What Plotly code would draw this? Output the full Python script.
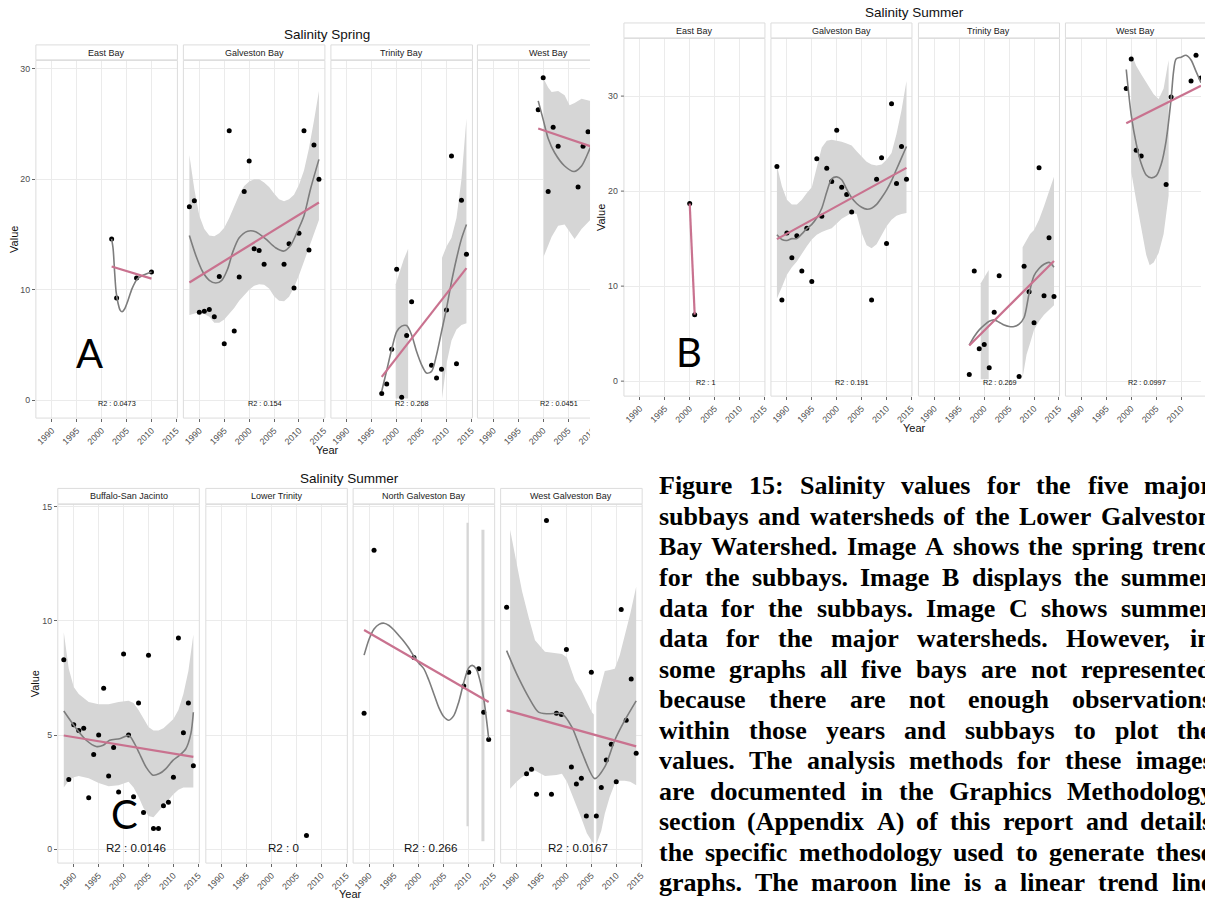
import plotly.graph_objects as go

W, H = 1205, 900
SANS = "Liberation Sans"
SERIF = "Liberation Serif"

YEAR_TICKS = [1990, 1995, 2000, 2005, 2010, 2015]
YEAR_LABELS = ["1990", "1995", "2000", "2005", "2010", "2015"]

# ======================= Salinity Spring (subbays) =======================
spring_east_year = [2002, 2003, 2007, 2010]
spring_east_value = [14.6, 9.25, 11.05, 11.6]
spring_east_smooth_year = [2002.0, 2002.3, 2002.6, 2002.9, 2003.3, 2003.7, 2004.1, 2004.6, 2005.3, 2006.1, 2007.1, 2008.3, 2010.0]
spring_east_smooth = [14.6, 13.7, 11.6, 9.8, 8.75, 8.15, 8.0, 8.25, 9.05, 10.1, 10.95, 11.3, 11.6]
spring_east_trend_year = [2002, 2010]
spring_east_trend = [12.1, 11.0]

spring_galv_year = [1988, 1989, 1990, 1991, 1992, 1993, 1994, 1995, 1996, 1997, 1998, 1999,
                    2000, 2001, 2002, 2003, 2007, 2008, 2009, 2010, 2011, 2012, 2013, 2014]
spring_galv_value = [17.5, 18.05, 7.95, 8.05, 8.2, 7.55, 11.2, 5.1, 24.4, 6.25, 11.15, 18.9,
                     21.65, 13.7, 13.55, 12.3, 12.3, 14.15, 10.15, 15.1, 24.4, 13.6, 23.1, 20.0]
spring_galv_smooth_year = [1988, 1989.3, 1990.7, 1992, 1993.3, 1994.5, 1995.7, 1996.7, 1998, 1999.7,
                           2001.3, 2003.3, 2005.3, 2007, 2008.3, 2009.7, 2011, 2012.3, 2014]
spring_galv_smooth = [14.9, 13.1, 11.6, 10.85, 10.6, 10.85, 11.9, 13.4, 14.7, 15.3,
                      15.25, 14.6, 13.8, 13.5, 14.0, 15.3, 16.7, 19.1, 21.8]
spring_galv_band_year = [1988, 1989, 1990, 1991, 1992, 1993, 1994, 1995, 1996, 1997, 1998, 1999, 2000, 2001,
                         2002, 2003, 2004, 2005, 2006, 2007, 2008, 2009, 2010, 2011, 2012, 2013, 2014]
spring_galv_band_hi = [22.2, 19.1, 16.7, 15.5, 14.9, 14.85, 15.1, 15.6, 16.5, 17.6, 18.6, 19.4, 19.8, 20.0,
                       20.0, 19.7, 19.3, 18.7, 18.2, 18.0, 18.2, 18.6, 19.5, 20.8, 22.8, 25.3, 28.0]
spring_galv_band_lo = [7.7, 7.85, 7.95, 7.8, 7.55, 7.0, 7.0, 7.3, 7.8, 8.35, 9.0, 9.5, 10.0, 10.35,
                       10.5, 10.45, 10.1, 9.4, 9.0, 8.95, 9.35, 10.2, 11.3, 12.5, 13.7, 15.0, 16.3]
spring_galv_trend_year = [1988, 2014]
spring_galv_trend = [10.65, 17.9]

spring_trin_year = [1997, 1998, 1999, 2000, 2001, 2002, 2003, 2007, 2008, 2009, 2010, 2011, 2012, 2013, 2014]
spring_trin_value = [0.6, 1.45, 4.6, 11.85, 0.25, 5.85, 8.9, 3.15, 2.0, 2.8, 8.15, 22.1, 3.3, 18.1, 13.2]
spring_trin_smooth_year = [1997, 1998, 1999, 2000, 2001, 2002, 2003, 2004, 2005, 2006, 2007, 2008, 2009,
                           2010, 2011, 2012, 2013, 2014]
spring_trin_smooth = [0.8, 2.7, 4.6, 6.2, 6.7, 6.75, 5.9, 4.4, 3.2, 2.45, 2.6, 4.1, 6.2, 8.3, 10.7, 12.8, 14.6, 15.9]
spring_trin_band1_year = [1999.8, 2000.6, 2001.4, 2002.3]
spring_trin_band1_hi = [10.5, 11.6, 12.7, 13.7]
spring_trin_band1_lo = [0.15, 0.15, 0.15, 0.15]
spring_trin_band2_year = [2009.1, 2010, 2011, 2012, 2013, 2014]
spring_trin_band2_hi = [12.9, 13.9, 14.7, 16.5, 20.0, 25.5]
spring_trin_band2_lo = [0.15, 3.3, 5.4, 6.4, 6.8, 6.95]
spring_trin_trend_year = [1997, 2014]
spring_trin_trend = [2.1, 11.95]

spring_west_year = [1999, 2000, 2001, 2002, 2003, 2007, 2008, 2009]
spring_west_value = [26.3, 29.2, 18.9, 24.7, 23.0, 19.3, 23.0, 24.3]
spring_west_smooth_year = [1999, 2000, 2001, 2002.3, 2004.3, 2006.2, 2007.7, 2009.3, 2010.5]
spring_west_smooth = [27.1, 25.4, 23.7, 22.4, 21.2, 20.7, 21.2, 22.7, 24.0]
spring_west_band_year = [2000.1, 2001, 2001.7, 2003, 2004.3, 2005.3, 2006.3, 2007.7, 2009.3, 2010.5]
spring_west_band_hi = [29.1, 28.3, 27.9, 28.0, 27.6, 26.7, 26.9, 27.3, 27.1, 27.0]
spring_west_band_lo = [13.0, 14.0, 14.8, 15.8, 15.9, 15.2, 14.6, 15.5, 16.2, 16.8]
spring_west_trend_year = [1999, 2014]
spring_west_trend = [24.6, 22.3]

spring_r2 = ["R2 : 0.0473", "R2 : 0.154", "R2 : 0.268", "R2 : 0.0451"]

# ======================= Salinity Summer (subbays) =======================
summer_east_year = [2000, 2001]
summer_east_value = [18.7, 7.0]
summer_east_trend_year = [2000, 2001]
summer_east_trend = [18.7, 7.0]

summer_galv_year = [1988, 1989, 1990, 1991, 1992, 1993, 1994, 1995, 1996, 1997, 1998, 1999,
                    2000, 2001, 2002, 2003, 2007, 2008, 2009, 2010, 2011, 2012, 2013, 2014]
summer_galv_value = [22.6, 8.55, 15.6, 13.0, 15.3, 11.6, 16.1, 10.5, 23.4, 17.35, 22.4, 21.0,
                     26.4, 20.4, 19.65, 17.8, 8.55, 21.25, 23.5, 14.5, 29.2, 20.8, 24.7, 21.25]
summer_galv_smooth_year = [1988, 1989, 1990, 1991, 1992, 1993, 1994, 1995, 1996, 1997, 1998, 1999, 2000, 2001,
                           2002, 2003, 2004, 2005, 2006, 2007, 2008, 2009, 2010, 2011, 2012, 2013, 2014]
summer_galv_smooth = [15.4, 14.9, 14.8, 15.0, 15.0, 15.5, 16.05, 16.5, 17.2, 18.2, 19.9, 21.3, 21.5, 21.2,
                      20.2, 19.3, 18.7, 18.3, 18.1, 18.2, 18.6, 19.3, 20.1, 21.1, 22.3, 23.5, 24.7]
summer_galv_band_year = summer_galv_smooth_year
summer_galv_band_hi = [22.7, 20.5, 19.1, 18.6, 18.6, 19.1, 19.8, 20.4, 22.5, 24.6, 25.3, 25.4, 25.3, 25.2,
                       25.0, 24.8, 24.2, 23.6, 23.1, 22.8, 22.7, 22.8, 23.3, 24.0, 26.0, 28.5, 31.6]
summer_galv_band_lo = [8.7, 9.9, 11.2, 12.0, 12.6, 13.4, 14.2, 14.9, 15.4, 15.7, 15.9, 16.1, 16.6, 17.1,
                       17.4, 17.7, 17.6, 15.6, 14.3, 14.0, 14.4, 15.3, 16.3, 17.0, 17.4, 17.6, 17.7]
summer_galv_trend_year = [1988, 2014]
summer_galv_trend = [14.95, 22.45]

summer_trin_year = [1997, 1998, 1999, 2000, 2001, 2002, 2003, 2007, 2008, 2009, 2010, 2011, 2012, 2013, 2014]
summer_trin_value = [0.7, 11.6, 3.4, 3.85, 1.4, 7.25, 11.1, 0.5, 12.1, 9.4, 6.15, 22.45, 9.0, 15.1, 8.9]
summer_trin_smooth_year = [1997, 1998, 1999, 2000, 2001, 2002, 2003, 2004, 2005, 2006, 2007, 2008, 2009,
                           2010, 2011, 2012, 2013, 2014]
summer_trin_smooth = [3.8, 4.7, 5.4, 5.9, 6.3, 6.45, 6.2, 5.9, 5.75, 5.75, 6.0, 6.7, 9.2, 11.1, 11.85, 12.3, 12.5, 12.0]
summer_trin_band1_year = [1999.3, 2000.9]
summer_trin_band1_hi = [10.3, 11.7]
summer_trin_band1_lo = [0.2, 0.2]
summer_trin_band2_year = [2007.7, 2008.5, 2009.2, 2010, 2011, 2012, 2013, 2014]
summer_trin_band2_hi = [14.1, 14.9, 15.5, 15.9, 17.0, 18.4, 19.9, 21.5]
summer_trin_band2_lo = [0.35, 2.8, 4.0, 5.4, 6.3, 7.0, 7.5, 8.0]
summer_trin_trend_year = [1997, 2014]
summer_trin_trend = [3.75, 12.65]

summer_west_year = [1999, 2000, 2001, 2002, 2007, 2008, 2012, 2013, 2014]
summer_west_value = [30.8, 33.9, 24.3, 23.7, 20.7, 29.9, 31.6, 34.3, 31.9]
summer_west_smooth_year = [1999, 2000, 2001, 2002, 2003, 2004, 2005, 2006, 2007, 2008, 2008.5, 2009,
                           2010, 2011, 2012, 2013, 2014]
summer_west_smooth = [32.8, 28.0, 25.0, 22.9, 21.7, 21.4, 21.6, 22.8, 25.3, 29.7, 32.6, 33.9,
                      34.1, 34.3, 33.8, 32.6, 31.4]
summer_west_band_year = [2000, 2001, 2002, 2003, 2003.7, 2004.5, 2005.5, 2006.5, 2007.5]
summer_west_band_hi = [34.5, 33.2, 32.3, 31.4, 30.8, 30.2, 29.7, 30.8, 33.8]
summer_west_band_lo = [22.0, 19.0, 16.0, 13.3, 12.2, 12.5, 13.5, 15.5, 19.5]
summer_west_trend_year = [1999, 2014]
summer_west_trend = [27.15, 31.1]

summer_r2 = ["R2 : 1", "R2 : 0.191", "R2 : 0.269", "R2 : 0.0997"]

# ======================= Salinity Summer (watersheds) =======================
shed_buff_year = [1988, 1989, 1990, 1991, 1992, 1993, 1994, 1995, 1996, 1997, 1998, 1999, 2000, 2001,
                  2002, 2003, 2004, 2005, 2006, 2007, 2008, 2009, 2010, 2011, 2012, 2013, 2014]
shed_buff_value = [8.3, 3.05, 5.45, 5.2, 5.3, 2.25, 4.15, 5.0, 7.05, 3.2, 4.45, 2.5, 8.55, 5.0,
                   2.3, 6.4, 1.6, 8.5, 0.9, 0.9, 1.9, 2.05, 3.15, 9.25, 5.1, 6.4, 3.65]
shed_buff_smooth_year = [1988, 1990.5, 1992.5, 1994.5, 1995.9, 1997.2, 1999.2, 2001.1, 2002.2, 2003.2,
                         2004.5, 2005.9, 2007.2, 2008.5, 2009.9, 2011.2, 2012.5, 2013.5, 2014]
shed_buff_smooth = [6.05, 5.28, 4.77, 4.5, 4.55, 4.77, 4.84, 4.98, 4.62, 4.18,
                    3.6, 3.24, 3.31, 3.53, 3.89, 4.11, 4.4, 5.06, 6.0]
shed_buff_band_year = [1988, 1989, 1990, 1991, 1993, 1995, 1997, 1999, 2001, 2002, 2003,
                       2004, 2005, 2006, 2007, 2008, 2009, 2010, 2011, 2012, 2013, 2014]
shed_buff_band_hi = [9.5, 7.9, 7.1, 6.8, 6.45, 6.35, 6.35, 6.45, 6.5, 6.4, 6.1,
                     5.7, 5.35, 5.2, 5.2, 5.3, 5.5, 5.7, 6.1, 6.8, 7.8, 9.4]
shed_buff_band_lo = [2.7, 3.0, 3.15, 3.2, 3.1, 2.9, 2.75, 2.8, 2.95, 2.7, 2.3,
                     1.8, 1.45, 1.4, 1.6, 1.9, 2.15, 2.4, 2.6, 2.7, 2.7, 2.7]
shed_buff_trend_year = [1988, 2014]
shed_buff_trend = [4.98, 4.04]

shed_lowtrin_year = [2007]
shed_lowtrin_value = [0.6]

shed_ngb_year = [1989, 1991, 1999, 2009, 2010, 2012, 2013, 2014]
shed_ngb_value = [5.95, 13.1, 8.4, 7.15, 7.75, 7.9, 6.0, 4.8]
shed_ngb_smooth_year = [1989, 1990, 1991, 1992, 1993, 1994, 1995, 1996, 1997, 1998, 1999, 2000, 2001, 2002,
                        2003, 2004, 2005, 2006, 2007, 2008, 2009, 2010, 2010.7, 2011.5, 2012, 2013, 2014]
shed_ngb_smooth = [8.5, 9.2, 9.65, 9.85, 9.9, 9.8, 9.6, 9.35, 9.1, 8.8, 8.45, 8.15, 7.9, 7.4,
                   6.8, 6.2, 5.8, 5.65, 5.85, 6.45, 7.3, 7.95, 8.05, 7.9, 7.6, 6.6, 4.85]
shed_ngb_band1_year = [2009.55, 2010.0]
shed_ngb_band1_hi = [14.3, 14.3]
shed_ngb_band1_lo = [1.0, 1.0]
shed_ngb_band2_year = [2012.55, 2013.15]
shed_ngb_band2_hi = [14.0, 14.0]
shed_ngb_band2_lo = [0.35, 0.35]
shed_ngb_trend_year = [1989, 2014]
shed_ngb_trend = [9.6, 6.45]

shed_wgb_year = [1988, 1992, 1993, 1994, 1996, 1997, 1998, 1999, 2000, 2001, 2002, 2003,
                 2004, 2005, 2006, 2007, 2008, 2009, 2010, 2011, 2012, 2013, 2014]
shed_wgb_value = [10.6, 3.3, 3.5, 2.4, 14.4, 2.4, 5.95, 5.9, 8.75, 3.6, 2.85, 3.1,
                  1.45, 7.75, 1.45, 2.7, 3.9, 4.6, 2.95, 10.5, 5.65, 7.45, 4.2]
shed_wgb_smooth_year = [1988, 1989.7, 1990.4, 1992.4, 1994.4, 1996.4, 1999.1, 2001.1, 2003.1,
                        2005.7, 2007.7, 2009.7, 2011.7, 2014]
shed_wgb_smooth = [8.7, 7.83, 7.5, 6.66, 6.0, 5.93, 5.93, 5.35, 4.25, 3.09, 3.6, 4.77, 5.64, 6.5]
shed_wgb_band1_year = [1988.7, 1990, 1991.1, 1992.5, 1993.7, 1995.7, 1998, 1999.1, 2000.1, 2001.7,
                       2003, 2004.1, 2005.1, 2005.5]
shed_wgb_band1_hi = [14.0, 12.5, 11.3, 10.1, 9.15, 8.65, 8.6, 8.55, 8.4, 7.4, 6.95, 6.45, 6.0, 5.9]
shed_wgb_band1_lo = [2.65, 2.95, 3.16, 3.35, 3.45, 3.2, 3.25, 3.3, 2.95, 2.1, 1.35, 0.7, 0.35, 0.25]
shed_wgb_band2_year = [2006.0, 2007, 2007.7, 2008.7, 2009.7, 2010.7, 2011.7, 2012.8, 2014]
shed_wgb_band2_hi = [6.4, 7.2, 7.8, 7.85, 7.9, 8.5, 9.3, 10.3, 11.5]
shed_wgb_band2_lo = [0.2, 0.8, 1.55, 2.3, 2.85, 3.0, 3.0, 2.95, 2.8]
shed_wgb_trend_year = [1988, 2014]
shed_wgb_trend = [6.08, 4.5]

shed_r2 = ["R2 : 0.0146", "R2 : 0", "R2 : 0.266", "R2 : 0.0167"]

# ======================= caption =======================
caption_lines = [
    "Figure 15: Salinity values for the five major",
    "subbays and watersheds of the Lower Galveston",
    "Bay Watershed. Image A shows the spring trend",
    "for the subbays. Image B displays the summer",
    "data for the subbays. Image C shows summer",
    "data for the major watersheds. However, in",
    "some graphs all five bays are not represented",
    "because there are not enough observations",
    "within those years and subbays to plot the",
    "values. The analysis methods for these images",
    "are documented in the Graphics Methodology",
    "section (Appendix A) of this report and details",
    "the specific methodology used to generate these",
    "graphs. The maroon line is a linear trend line",
]


def facet(name, year, value, r2, smooth=None, bands=(), trend=None):
    return dict(name=name, year=year, value=value, r2=r2, smooth=smooth, bands=list(bands), trend=trend)


spring_facets = [
    facet("East Bay", spring_east_year, spring_east_value, spring_r2[0],
          smooth=(spring_east_smooth_year, spring_east_smooth),
          trend=(spring_east_trend_year, spring_east_trend)),
    facet("Galveston Bay", spring_galv_year, spring_galv_value, spring_r2[1],
          smooth=(spring_galv_smooth_year, spring_galv_smooth),
          bands=[(spring_galv_band_year, spring_galv_band_lo, spring_galv_band_hi)],
          trend=(spring_galv_trend_year, spring_galv_trend)),
    facet("Trinity Bay", spring_trin_year, spring_trin_value, spring_r2[2],
          smooth=(spring_trin_smooth_year, spring_trin_smooth),
          bands=[(spring_trin_band1_year, spring_trin_band1_lo, spring_trin_band1_hi),
                 (spring_trin_band2_year, spring_trin_band2_lo, spring_trin_band2_hi)],
          trend=(spring_trin_trend_year, spring_trin_trend)),
    facet("West Bay", spring_west_year, spring_west_value, spring_r2[3],
          smooth=(spring_west_smooth_year, spring_west_smooth),
          bands=[(spring_west_band_year, spring_west_band_lo, spring_west_band_hi)],
          trend=(spring_west_trend_year, spring_west_trend)),
]

summer_facets = [
    facet("East Bay", summer_east_year, summer_east_value, summer_r2[0],
          trend=(summer_east_trend_year, summer_east_trend)),
    facet("Galveston Bay", summer_galv_year, summer_galv_value, summer_r2[1],
          smooth=(summer_galv_smooth_year, summer_galv_smooth),
          bands=[(summer_galv_band_year, summer_galv_band_lo, summer_galv_band_hi)],
          trend=(summer_galv_trend_year, summer_galv_trend)),
    facet("Trinity Bay", summer_trin_year, summer_trin_value, summer_r2[2],
          smooth=(summer_trin_smooth_year, summer_trin_smooth),
          bands=[(summer_trin_band1_year, summer_trin_band1_lo, summer_trin_band1_hi),
                 (summer_trin_band2_year, summer_trin_band2_lo, summer_trin_band2_hi)],
          trend=(summer_trin_trend_year, summer_trin_trend)),
    facet("West Bay", summer_west_year, summer_west_value, summer_r2[3],
          smooth=(summer_west_smooth_year, summer_west_smooth),
          bands=[(summer_west_band_year, summer_west_band_lo, summer_west_band_hi)],
          trend=(summer_west_trend_year, summer_west_trend)),
]

shed_facets = [
    facet("Buffalo-San Jacinto", shed_buff_year, shed_buff_value, shed_r2[0],
          smooth=(shed_buff_smooth_year, shed_buff_smooth),
          bands=[(shed_buff_band_year, shed_buff_band_lo, shed_buff_band_hi)],
          trend=(shed_buff_trend_year, shed_buff_trend)),
    facet("Lower Trinity", shed_lowtrin_year, shed_lowtrin_value, shed_r2[1]),
    facet("North Galveston Bay", shed_ngb_year, shed_ngb_value, shed_r2[2],
          smooth=(shed_ngb_smooth_year, shed_ngb_smooth),
          bands=[(shed_ngb_band1_year, shed_ngb_band1_lo, shed_ngb_band1_hi),
                 (shed_ngb_band2_year, shed_ngb_band2_lo, shed_ngb_band2_hi)],
          trend=(shed_ngb_trend_year, shed_ngb_trend)),
    facet("West Galveston Bay", shed_wgb_year, shed_wgb_value, shed_r2[3],
          smooth=(shed_wgb_smooth_year, shed_wgb_smooth),
          bands=[(shed_wgb_band1_year, shed_wgb_band1_lo, shed_wgb_band1_hi),
                 (shed_wgb_band2_year, shed_wgb_band2_lo, shed_wgb_band2_hi)],
          trend=(shed_wgb_trend_year, shed_wgb_trend)),
]

# panel placement (pixels) for each block of facets
blocks = [
    dict(facets=spring_facets, lefts=[36, 184, 332, 479], width=142, top=58.5, bottom=417,
         strip_top=43, zero_px=399, unit_px=11.067, yticks=[0, 10, 20, 30],
         title="Salinity Spring", title_xy=(328.5, 33), value_xy=(14, 237.5), year_xy=(328.5, 449),
         r2_size=7.3, r2_year=2003.1, r2_shift=-3, letter=("A", 89.5, 352), manual_y=False),
    dict(facets=summer_facets, lefts=[626, 773.5, 921.5, 1069], width=141.5, top=36.5, bottom=395,
         strip_top=21, zero_px=380, unit_px=9.523, yticks=[0, 10, 20, 30],
         title="Salinity Summer", title_xy=(918, 10.5), value_xy=(603, 215.5), year_xy=(918, 427),
         r2_size=7.3, r2_year=2003.1, r2_shift=-1, letter=("B", 691, 351), manual_y=True),
    dict(facets=shed_facets, lefts=[58, 206.5, 354.3, 502.3], width=142, top=503.5, bottom=863,
         strip_top=487.5, zero_px=849, unit_px=22.87, yticks=[0, 5, 10, 15],
         title="Salinity Summer", title_xy=(351, 477.5), value_xy=(36, 683), year_xy=(351.5, 894),
         r2_size=11.6, r2_year=2002.4, r2_shift=2, letter=("C", 124.5, 814), manual_y=False),
]

BAND = "#D6D6D6"
SMOOTH = "#7D7D7D"
TREND = "#C9728F"
GRID = "#EBEBEB"
BORDER = "#DCDCDC"
TICKTXT = "#4D4D4D"


def px(x):
    return x / W


def py(y):
    return 1 - y / H


fig = go.Figure()
layout = {}
shapes = []
annotations = []
late_shapes = []
late_annotations = []

n = 0
for b in blocks:
    y_lo = (b["zero_px"] - b["bottom"]) / b["unit_px"]
    y_hi = (b["zero_px"] - b["top"]) / b["unit_px"]
    for k, f in enumerate(b["facets"]):
        n += 1
        left = b["lefts"][k]
        right_full = left + b["width"]
        right = min(right_full, W)
        xr = [1990 - 16 / 5, 1990 + (right - left - 16) / 5]
        xa, ya = f"x{n}", f"y{n}"
        first = k == 0
        layout[f"xaxis{n}"] = dict(
            domain=[px(left), px(right)], range=xr, anchor=ya,
            tickmode="array", tickvals=YEAR_TICKS, ticktext=YEAR_LABELS, tickangle=-45,
            showgrid=True, gridcolor=GRID, gridwidth=1, zeroline=False, showline=False,
            ticks="outside", ticklen=3, tickcolor="#666666", tickwidth=1,
            tickfont=dict(family=SANS, size=8.8, color=TICKTXT), fixedrange=True,
        )
        layout[f"yaxis{n}"] = dict(
            domain=[py(b["bottom"]), py(b["top"])], range=[y_lo, y_hi], anchor=xa,
            tickmode="array", tickvals=b["yticks"], ticktext=[str(v) for v in b["yticks"]],
            showgrid=True, gridcolor=GRID, gridwidth=1, zeroline=False, showline=False,
            showticklabels=first and not b["manual_y"],
            ticks="outside" if (first and not b["manual_y"]) else "",
            ticklen=3, tickcolor="#666666", tickwidth=1,
            tickfont=dict(family=SANS, size=8.8, color=TICKTXT), fixedrange=True,
        )

        for yrs, lo, hi in f["bands"]:
            fig.add_trace(go.Scatter(
                x=list(yrs) + list(yrs)[::-1], y=list(hi) + list(lo)[::-1],
                fill="toself", fillcolor=BAND, mode="lines", line=dict(width=0),
                hoverinfo="skip", showlegend=False, xaxis=xa, yaxis=ya))
        fig.add_trace(go.Scatter(
            x=f["year"], y=f["value"], mode="markers",
            marker=dict(size=5, color="black"), showlegend=False, xaxis=xa, yaxis=ya))
        if f["smooth"]:
            fig.add_trace(go.Scatter(
                x=f["smooth"][0], y=f["smooth"][1], mode="lines",
                line=dict(color=SMOOTH, width=1.6, shape="spline", smoothing=0.8),
                showlegend=False, xaxis=xa, yaxis=ya))
        if f["trend"]:
            fig.add_trace(go.Scatter(
                x=f["trend"][0], y=f["trend"][1], mode="lines",
                line=dict(color=TREND, width=2.2),
                showlegend=False, xaxis=xa, yaxis=ya))

        # panel frame (three sides when the panel runs off the edge)
        top, bot = b["top"], b["bottom"]
        if right_full <= W and not (b is blocks[0] and k == 3):
            shapes.append(dict(type="rect", xref="paper", yref="paper",
                               x0=px(left), x1=px(right_full), y0=py(bot), y1=py(top),
                               line=dict(color=BORDER, width=1), layer="above"))
        else:
            for (xa0, ya0, xa1, ya1) in [(left, top, right_full, top), (left, bot, right_full, bot),
                                         (left, top, left, bot)]:
                shapes.append(dict(type="line", xref="paper", yref="paper",
                                   x0=px(xa0), x1=px(xa1), y0=py(ya0), y1=py(ya1),
                                   line=dict(color=BORDER, width=1), layer="above"))
        # strip
        shapes.append(dict(type="rect", xref="paper", yref="paper",
                           x0=px(left), x1=px(right_full), y0=py(top - 0.5), y1=py(b["strip_top"]),
                           fillcolor="#FFFFFF", line=dict(color=BORDER, width=1), layer="above"))
        annotations.append(dict(text=f["name"], xref="paper", yref="paper",
                                x=px(left + b["width"] / 2), y=py((b["strip_top"] + top) / 2),
                                showarrow=False, xanchor="center", yanchor="middle",
                                font=dict(family=SANS, size=9, color="#222222")))
        annotations.append(dict(text=f["r2"], xref=xa, yref=ya, x=b["r2_year"], y=0,
                                yshift=b["r2_shift"], showarrow=False,
                                xanchor="center", yanchor="middle",
                                font=dict(family=SANS, size=b["r2_size"], color="#111111")))

    # block titles
    annotations.append(dict(text=b["title"], xref="paper", yref="paper",
                            x=px(b["title_xy"][0]), y=py(b["title_xy"][1]), showarrow=False,
                            xanchor="center", yanchor="middle",
                            font=dict(family=SANS, size=13.5, color="#111111")))
    annotations.append(dict(text="Value", xref="paper", yref="paper", textangle=-90,
                            x=px(b["value_xy"][0]), y=py(b["value_xy"][1]), showarrow=False,
                            xanchor="center", yanchor="middle",
                            font=dict(family=SANS, size=11, color="#111111")))
    annotations.append(dict(text="Year", xref="paper", yref="paper",
                            x=px(b["year_xy"][0]), y=py(b["year_xy"][1]), showarrow=False,
                            xanchor="center", yanchor="middle",
                            font=dict(family=SANS, size=11, color="#111111")))
    lt, lx, ly = b["letter"]
    annotations.append(dict(text=lt, xref="paper", yref="paper", x=px(lx), y=py(ly),
                            showarrow=False, xanchor="center", yanchor="middle",
                            font=dict(family="Lato", size=40, color="black")))
    if b["manual_y"]:
        left0 = b["lefts"][0]
        for v in b["yticks"]:
            yy = b["zero_px"] - v * b["unit_px"]
            late_shapes.append(dict(type="line", xref="paper", yref="paper",
                                    x0=px(left0 - 3), x1=px(left0), y0=py(yy), y1=py(yy),
                                    line=dict(color="#666666", width=1), layer="above"))
            late_annotations.append(dict(text=str(v), xref="paper", yref="paper",
                                         x=px(left0 - 4), y=py(yy), showarrow=False,
                                         xanchor="right", yanchor="middle",
                                         font=dict(family=SANS, size=8.8, color=TICKTXT)))

# the spring image is trimmed on its right side
shapes.append(dict(type="rect", xref="paper", yref="paper", x0=px(592), x1=px(624),
                   y0=py(462), y1=py(0), fillcolor="white", line=dict(width=0), layer="above"))
shapes.extend(late_shapes)
annotations.extend(late_annotations)

# justified caption set in bold Times-like type
TB = {' ': 250, '(': 333, ')': 333, ',': 250, '-': 333, '.': 250, ':': 333,
      'A': 722, 'B': 667, 'C': 722, 'D': 722, 'E': 667, 'F': 611, 'G': 778, 'H': 778, 'I': 389,
      'J': 500, 'K': 778, 'L': 667, 'M': 944, 'N': 722, 'O': 778, 'P': 611, 'Q': 778, 'R': 722,
      'S': 556, 'T': 667, 'U': 722, 'V': 722, 'W': 1000, 'X': 722, 'Y': 722, 'Z': 667,
      'a': 500, 'b': 556, 'c': 444, 'd': 556, 'e': 444, 'f': 333, 'g': 500, 'h': 556, 'i': 278,
      'j': 333, 'k': 556, 'l': 278, 'm': 833, 'n': 556, 'o': 500, 'p': 556, 'q': 556, 'r': 444,
      's': 389, 't': 333, 'u': 556, 'v': 500, 'w': 722, 'x': 500, 'y': 500, 'z': 444}
CAP_SIZE = 26
CAP_LEFT, CAP_RIGHT = 660, 1215
CAP_TOP, CAP_STEP = 485, 30.6


def word_width(w):
    return sum(TB.get(c, 500) for c in w) * CAP_SIZE / 1000.0


for i, line in enumerate(caption_lines):
    words = line.split(" ")
    widths = [word_width(w) for w in words]
    gap = (CAP_RIGHT - CAP_LEFT - sum(widths)) / (len(words) - 1)
    xpos = CAP_LEFT
    for w, wd in zip(words, widths):
        annotations.append(dict(text=f"<b>{w}</b>", xref="paper", yref="paper",
                                x=px(xpos), y=py(CAP_TOP + i * CAP_STEP), showarrow=False,
                                xanchor="left", yanchor="middle", borderpad=0,
                                font=dict(family=SERIF, size=CAP_SIZE, color="black")))
        xpos += wd + gap

layout.update(dict(
    width=W, height=H, autosize=False,
    margin=dict(l=0, r=0, t=0, b=0, pad=0),
    paper_bgcolor="white", plot_bgcolor="white",
    showlegend=False, shapes=shapes, annotations=annotations,
))
fig.update_layout(**layout)
fig.write_html("out.html")
